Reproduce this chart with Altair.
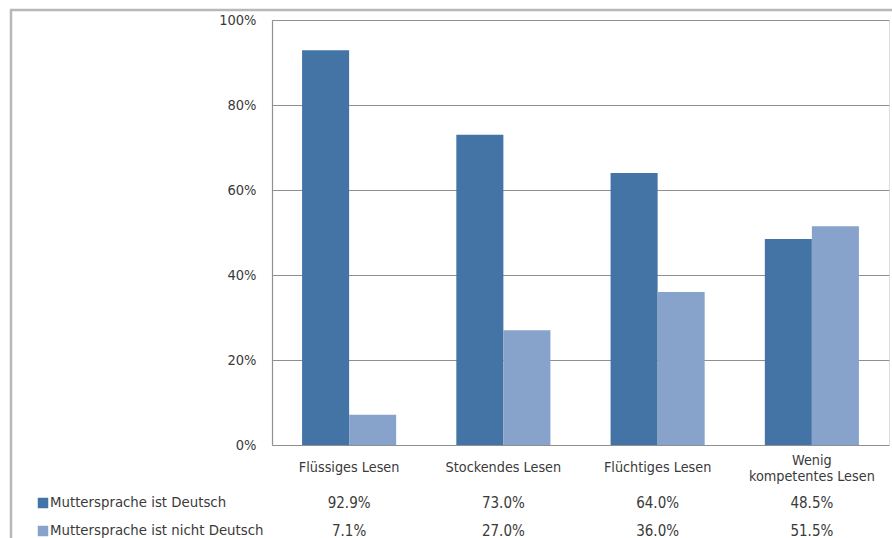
import altair as alt
import pandas as pd

categories = ["Flüssiges Lesen", "Stockendes Lesen", "Flüchtiges Lesen", "Wenig\nkompetentes Lesen"]
series = ["Muttersprache ist Deutsch", "Muttersprache ist nicht Deutsch"]
deutsch = [92.9, 73.0, 64.0, 48.5]
nicht_deutsch = [7.1, 27.0, 36.0, 51.5]
colors = ["#4473a6", "#87a3cb"]
y_ticks = [0, 20, 40, 60, 80, 100]

rows = []
for s, vals in zip(series, [deutsch, nicht_deutsch]):
    for c, v in zip(categories, vals):
        rows.append({"series": s, "category": c, "value": v, "label": f"{v:.1f}%"})
df = pd.DataFrame(rows)

FONT = "DejaVu Sans Condensed"
TXT = "#3a3a3a"

xscale = alt.Scale(domain=categories, paddingInner=0.39, paddingOuter=0.195)
xenc = alt.X("category:N", scale=xscale, sort=categories, axis=None)

bars = alt.Chart(df).mark_bar().encode(
    x=xenc,
    xOffset=alt.XOffset("series:N", sort=series, scale=alt.Scale(paddingInner=0, paddingOuter=0)),
    y=alt.Y("value:Q", scale=alt.Scale(domain=[0, 100], nice=False),
            axis=alt.Axis(values=y_ticks, labelExpr="datum.value + '%'", title=None,
                          grid=True, gridColor="#8f8f8f", gridWidth=1.2,
                          domain=True, domainColor="#8f8f8f", domainWidth=1.2,
                          ticks=False, labelPadding=16, labelFont=FONT,
                          labelFontSize=14.5, labelColor=TXT)),
    color=alt.Color("series:N", sort=series, scale=alt.Scale(domain=series, range=colors), legend=None),
)

cat_df = pd.DataFrame({"category": categories})
cat_df["multi"] = cat_df["category"].str.contains("\n")
cat_single = alt.Chart(cat_df[~cat_df["multi"]]).mark_text(
    font=FONT, fontSize=14.3, color=TXT, baseline="middle", align="center"
).encode(x=xenc, y=alt.value(448), text="category:N")
cat_multi = alt.Chart(cat_df[cat_df["multi"]]).mark_text(
    font=FONT, fontSize=14.3, color=TXT, baseline="middle", align="center", lineBreak="\n", lineHeight=16
).encode(x=xenc, y=alt.value(441), text="category:N")

layers = [bars, cat_single, cat_multi]
row_y = [483, 511]
for s, col, ry in zip(series, colors, row_y):
    sub = df[df["series"] == s]
    layers.append(alt.Chart(sub).mark_text(
        font=FONT, fontSize=15, color=TXT, baseline="middle", align="center"
    ).encode(x=xenc, y=alt.value(ry), text="label:N"))
    lab = pd.DataFrame({"series": [s]})
    layers.append(alt.Chart(lab).mark_square(size=110, opacity=1, color=col).encode(
        x=alt.value(-229), y=alt.value(ry)))
    layers.append(alt.Chart(lab).mark_text(
        font=FONT, fontSize=14.8, color=TXT, baseline="middle", align="left"
    ).encode(x=alt.value(-222), y=alt.value(ry), text="series:N"))

frame_df = pd.DataFrame({"a": [0]})
frame_top = alt.Chart(frame_df).mark_rule(color="#b8b8b8", strokeWidth=2.5).encode(
    x=alt.value(-262), x2=alt.value(700), y=alt.value(-10))
frame_left = alt.Chart(frame_df).mark_rule(color="#b8b8b8", strokeWidth=2.5).encode(
    x=alt.value(-261), y=alt.value(-11), y2=alt.value(600))
layers += [frame_top, frame_left]

chart = alt.layer(*layers).properties(
    width=617, height=425,
    padding={"left": 272, "top": 20, "right": 3, "bottom": 93},
    autosize=alt.AutoSizeParams(type="none"),
).configure_view(stroke=None).configure(background="white")

chart.save("out.html", embed_options={"renderer": "svg", "actions": False})
